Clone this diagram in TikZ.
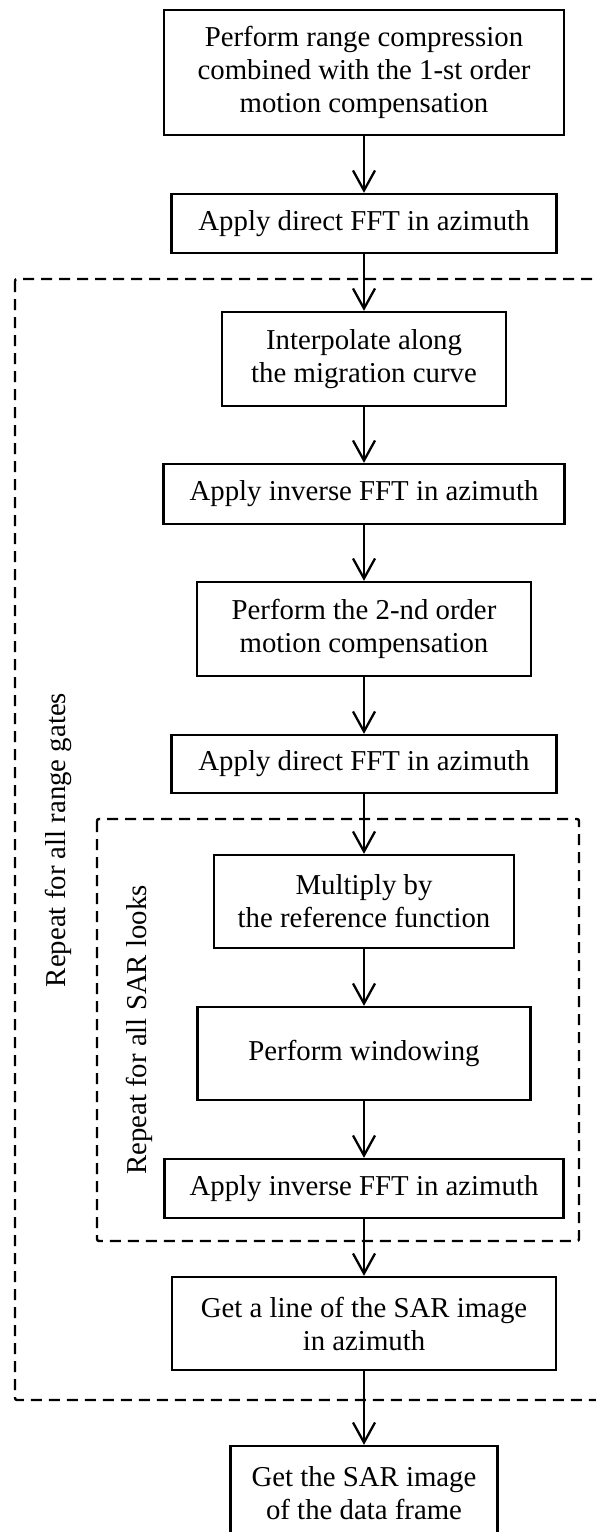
\documentclass[tikz,border=0pt]{standalone}
\usepackage{fontspec}
\setmainfont{Liberation Serif}
\usetikzlibrary{arrows.meta}
\begin{document}
\begin{tikzpicture}[x=1pt,y=-1pt,
  box/.style={draw, line width=2.3pt, align=center, inner sep=0pt, font=\fontsize{28.8}{33}\selectfont},
  arr/.style={line width=2.3pt, -{Straight Barb[length=20pt,width=22pt,line width=2.3pt]}},
  dashbox/.style={line width=2.4pt, dash pattern=on 11pt off 7pt, rounded corners=2pt},
  lab/.style={rotate=90, font=\fontsize{28.8}{33}\selectfont, inner sep=0pt}]
\useasboundingbox (0,0) rectangle (595,1532);
\fill[white] (0,0) rectangle (595,1532);

% dashed loop frames
\draw[dashbox] (15,279) rectangle (625,1400);
\draw[dashbox] (97,819) rectangle (579,1241);

% labels of loops
\node[lab] (lgates) at (58,840) {Repeat for all range gates};
\node[lab] (llooks) at (139,1030) {Repeat for all SAR looks};

% boxes
\node[box, minimum width=400pt, minimum height=125pt] (b1) at (364,72.5)
  {Perform range compression\\combined with the 1-st order\\motion compensation};
\node[box, minimum width=385pt, minimum height=59pt] (b2) at (364,223.5)
  {Apply direct FFT in azimuth};
\node[box, minimum width=284pt, minimum height=94pt] (b3) at (364,359)
  {Interpolate along\\the migration curve};
\node[box, minimum width=401pt, minimum height=60pt] (b4) at (364,494)
  {Apply inverse FFT in azimuth};
\node[box, minimum width=334pt, minimum height=94pt] (b5) at (364,629)
  {Perform the 2-nd order\\motion compensation};
\node[box, minimum width=385pt, minimum height=58pt] (b6) at (364,764)
  {Apply direct FFT in azimuth};
\node[box, minimum width=300pt, minimum height=93pt] (b7) at (364,901.5)
  {Multiply by\\the reference function};
\node[box, minimum width=333pt, minimum height=93pt] (b8) at (364,1053.5)
  {Perform windowing};
\node[box, minimum width=399pt, minimum height=59pt] (b9) at (364,1188.5)
  {Apply inverse FFT in azimuth};
\node[box, minimum width=384pt, minimum height=93pt] (b10) at (364,1323.5)
  {Get a line of the SAR image\\in azimuth};
\node[box, minimum width=267pt, minimum height=94pt] (b11) at (364,1493)
  {Get the SAR image\\of the data frame};

% connectors
\draw[arr] (b1.south) -- (b2.north);
\draw[arr] (b2.south) -- (b3.north);
\draw[arr] (b3.south) -- (b4.north);
\draw[arr] (b4.south) -- (b5.north);
\draw[arr] (b5.south) -- (b6.north);
\draw[arr] (b6.south) -- (b7.north);
\draw[arr] (b7.south) -- (b8.north);
\draw[arr] (b8.south) -- (b9.north);
\draw[arr] (b9.south) -- (b10.north);
\draw[arr] (b10.south) -- (b11.north);
\end{tikzpicture}
\end{document}
